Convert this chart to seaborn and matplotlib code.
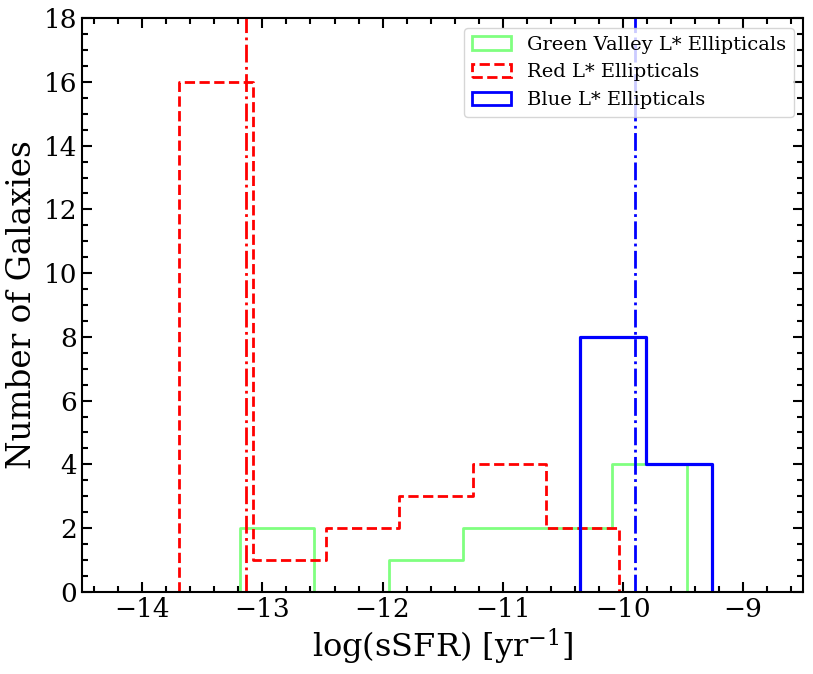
import matplotlib
matplotlib.use("Agg")
import matplotlib.pyplot as plt
import matplotlib.ticker as mticker
from matplotlib.patches import Patch
import numpy as np
import pandas as pd
import seaborn as sns

# ---------------------------------------------------------------------------
# Data (bin edges and counts per sample)
# ---------------------------------------------------------------------------
green_edges = [-13.19, -12.57, -11.95, -11.33, -10.71, -10.09, -9.47]
green_counts = [2, 0, 1, 2, 2, 4]

red_edges = [-13.69, -13.08, -12.47, -11.86, -11.25, -10.64, -10.03]
red_counts = [16, 1, 2, 3, 4, 2]

blue_edges = [-10.36, -9.81, -9.26]
blue_counts = [8, 4]

red_mean = -13.14
blue_mean = -9.90

labels = ["Green Valley L* Ellipticals", "Red L* Ellipticals", "Blue L* Ellipticals"]

GREEN = "#80ff80"
RED = "red"
BLUE = "blue"

sns.set_style("ticks")
plt.rcParams["font.family"] = ["DejaVu Serif"]
plt.rcParams["mathtext.fontset"] = "dejavuserif"
for key in ("text.color", "axes.labelcolor", "xtick.color", "ytick.color", "axes.edgecolor"):
    plt.rcParams[key] = "black"


def _step_hist(ax, edges, counts, color, ls, lw=2.0):
    """Unfilled step histogram closed down to zero at both ends."""
    eps = 1e-6
    full_edges = [edges[0] - eps] + list(edges) + [edges[-1] + eps]
    fe = np.asarray(full_edges)
    df = pd.DataFrame({
        "x": (fe[:-1] + fe[1:]) / 2,
        "w": [0.0] + [float(c) for c in counts] + [0.0],
    })
    # bins passed as a list: seaborn compares it to "auto" internally
    sns.histplot(
        data=df, x="x", weights="w", bins=full_edges,
        element="step", fill=False, color=color,
        linestyle=ls, linewidth=lw, ax=ax,
    )


fig = plt.figure(figsize=(8.13, 6.74), dpi=100)
ax = fig.add_axes([0.101, 0.122, 0.887, 0.851])

_step_hist(ax, green_edges, green_counts, GREEN, "-")
_step_hist(ax, red_edges, red_counts, RED, "--")
_step_hist(ax, blue_edges, blue_counts, BLUE, "-", lw=2.3)

ax.axvline(red_mean, color=RED, linestyle="-.", linewidth=2)
ax.axvline(blue_mean, color=BLUE, linestyle="-.", linewidth=2)

ax.set_xlim(-14.5, -8.5)
ax.set_ylim(0, 18)
ax.set_xlabel(r"log(sSFR) [yr$^{-1}$]", fontsize=23)
ax.set_ylabel("Number of Galaxies", fontsize=23.5)

ax.xaxis.set_major_locator(mticker.MultipleLocator(1))
ax.xaxis.set_minor_locator(mticker.MultipleLocator(0.2))
ax.yaxis.set_major_locator(mticker.MultipleLocator(2))
ax.yaxis.set_minor_locator(mticker.MultipleLocator(0.5))
ax.tick_params(which="both", direction="in", top=True, right=True, width=1.5)
ax.tick_params(which="major", length=7, labelsize=19)
ax.tick_params(which="minor", length=4)
for spine in ax.spines.values():
    spine.set_linewidth(1.5)

handles = [
    Patch(facecolor="none", edgecolor=GREEN, linewidth=2, linestyle="-"),
    Patch(facecolor="none", edgecolor=RED, linewidth=2, linestyle="--"),
    Patch(facecolor="none", edgecolor=BLUE, linewidth=2, linestyle="-"),
]
ax.legend(handles, labels, loc="upper right", fontsize=14, frameon=True)

fig.savefig("out.png", dpi=100)
